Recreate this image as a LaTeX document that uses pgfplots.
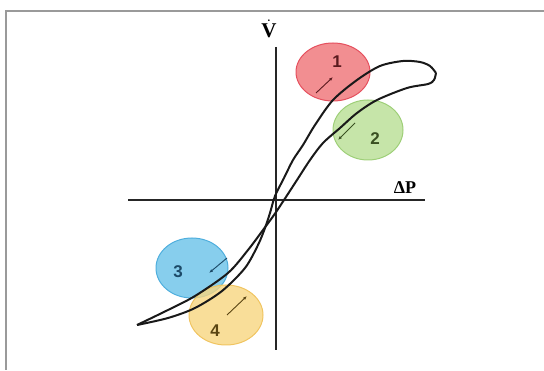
\documentclass[border=0pt]{standalone}
\usepackage{fontspec}
\setmainfont{Liberation Serif}
\newfontfamily\arial{Liberation Sans}
\usepackage{pgfplots}
\pgfplotsset{compat=1.18}
\usetikzlibrary{arrows.meta}
\definecolor{framegray}{HTML}{9A9A9A}
\definecolor{redfill}{HTML}{F07A7E}
\definecolor{reddraw}{HTML}{E5505E}
\definecolor{greenfill}{HTML}{BCE19A}
\definecolor{greendraw}{HTML}{9ECF78}
\definecolor{bluefill}{HTML}{72C6EA}
\definecolor{bluedraw}{HTML}{4EAEDD}
\definecolor{yellowfill}{HTML}{F8D680}
\definecolor{yellowdraw}{HTML}{F0C460}
\definecolor{redtxt}{HTML}{5A1A1E}
\definecolor{greentxt}{HTML}{3A5022}
\definecolor{bluetxt}{HTML}{1C4A68}
\definecolor{yellowtxt}{HTML}{5A4512}

\begin{document}
\begin{tikzpicture}
\begin{axis}[
  name=main,
  anchor=south west, at={(0,0)},
  scale only axis,
  width=544pt, height=370pt,
  xmin=0, xmax=544, ymin=0, ymax=370,
  hide axis,
  clip=false,
]
% frame of the picture
\addplot[framegray, line width=2pt] coordinates {(5.5,0) (5.5,359) (544,359)};

% highlighted regions
\draw[reddraw, fill=redfill, fill opacity=0.85, line width=1pt] (axis cs:333,298) ellipse [x radius=37, y radius=29];
\draw[greendraw, fill=greenfill, fill opacity=0.85, line width=1pt] (axis cs:368,240) ellipse [x radius=35, y radius=30];
\draw[bluedraw, fill=bluefill, fill opacity=0.85, line width=1pt] (axis cs:192,102) ellipse [x radius=36, y radius=30];
\draw[yellowdraw, fill=yellowfill, fill opacity=0.8, line width=1pt] (axis cs:226,55) ellipse [x radius=37, y radius=30];

% axes
\addplot[black!85, line width=1.5pt] coordinates {(128,170) (425,170)};
\addplot[black!85, line width=1.5pt] coordinates {(276,323) (276,20)};

% increasing branch
\addplot[black!90, line width=2pt, smooth] coordinates {
  (137,45) (168,52) (195,62) (222,79) (245,102) (258,125) (265,142)
  (270,157) (275,174) (284,192) (293,210) (303,225) (315,245) (333,270)
  (357,290) (380,304) (403,309) (420,308) (430,304) (436,297)
};
% decreasing branch
\addplot[black!90, line width=2pt, smooth] coordinates {
  (436,297) (434,290) (428,286) (407,282) (377,270) (357,257) (340,242)
  (323,227) (310,210) (297,190) (284,170) (274,155) (263,140) (248,120)
  (228,97) (195,74) (168,60) (137,45)
};

% direction arrows
\addplot[redtxt, line width=0.9pt, -{Latex[length=4pt,width=3pt]}] coordinates {(316,277) (333,293)};
\addplot[greentxt, line width=0.9pt, -{Latex[length=4pt,width=3pt]}] coordinates {(355,247) (338,230)};
\addplot[bluetxt, line width=0.9pt, -{Latex[length=4pt,width=3pt]}] coordinates {(227,112) (209,97)};
\addplot[yellowtxt, line width=0.9pt, -{Latex[length=4pt,width=3pt]}] coordinates {(227,55) (247,74)};

% labels
\node[anchor=base, inner sep=0pt, font=\fontsize{21}{24}\selectfont] at (axis cs:269,332) {$\dot{\mathbf{V}}$};
\node[anchor=base, inner sep=0pt, font=\fontsize{18}{22}\selectfont\bfseries] at (axis cs:405,176) {ΔP};

\node[anchor=base, inner sep=0pt, text=redtxt, font=\arial\fontsize{17}{20}\selectfont\bfseries] at (axis cs:337,302) {1};
\node[anchor=base, inner sep=0pt, text=greentxt, font=\arial\fontsize{17}{20}\selectfont\bfseries] at (axis cs:375,225) {2};
\node[anchor=base, inner sep=0pt, text=bluetxt, font=\arial\fontsize{17}{20}\selectfont\bfseries] at (axis cs:178,92) {3};
\node[anchor=base, inner sep=0pt, text=yellowtxt, font=\arial\fontsize{17}{20}\selectfont\bfseries] at (axis cs:215,33) {4};
\end{axis}
\pgfresetboundingbox
\path (main.south west) rectangle (main.north east);
\end{tikzpicture}
\end{document}
